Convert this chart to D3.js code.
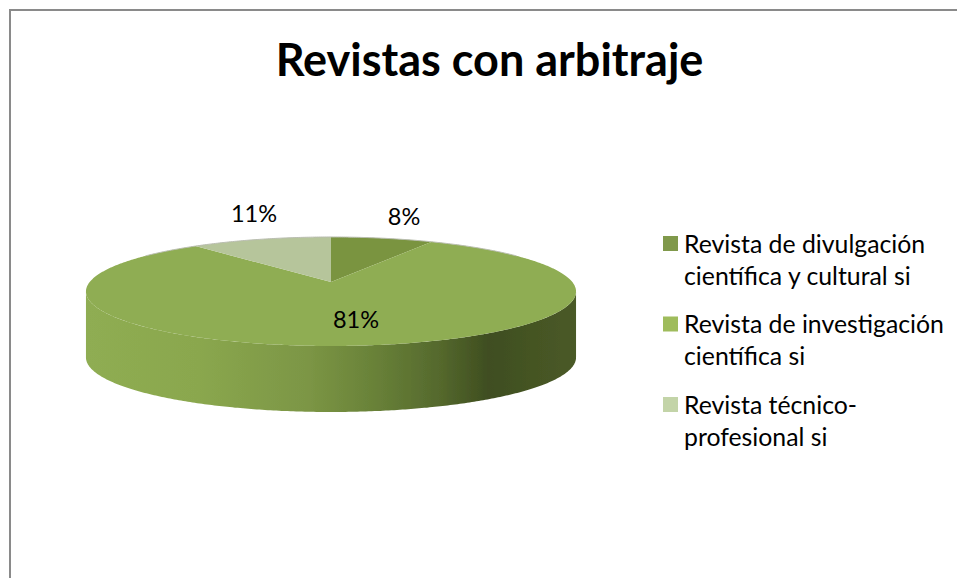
<!DOCTYPE html>
<html><head><meta charset="utf-8">
<script src="https://cdn.jsdelivr.net/npm/d3@7"></script>
<style>html,body{margin:0;padding:0;background:#fff}svg{display:block}text{font-family:Lato,"Open Sans",sans-serif;fill:#000}</style>
</head><body><svg id="c" width="957" height="578"></svg>
<script>
const title = "Revistas con arbitraje";
const categories = ["Revista de divulgación científica y cultural si","Revista de investigación científica si","Revista técnico-profesional si"];
const legendLines = [["Revista de divulgación","científica y cultural si"],["Revista de investigación","científica si"],["Revista técnico-","profesional si"]];
const values = [8,81,11];
const labels = ["8%","81%","11%"];
const topColors = ["#7a9440","#8fad52","#b6c59b"];
const legendColors = ["#80994b","#9fbc5c","#c3d4a8"];
const wallStops = [[0,"#8fad52"],[0.23,"#8aa74e"],[0.45,"#7c9645"],[0.58,"#6a8339"],[0.72,"#55692d"],[0.82,"#3f4e20"],[1,"#4a5a27"]];

const svg = d3.select("#c");
svg.append("path").attr("d","M10 578V10H957").attr("fill","none").attr("stroke","#8a8a8a").attr("stroke-width",2);

svg.append("text").attr("x",489.5).attr("y",76).attr("text-anchor","middle")
  .attr("font-size",45).attr("font-weight",700).text(title);

// projective mapping of the pie disc
const apex={x:331,y:282}, R=241.3, Ry=52.85, k=0.174, depth=66;
const proj=(a,dy=0)=>{const w=1+k*Math.cos(a);return [apex.x+R*Math.sin(a)/w, apex.y+dy-Ry*Math.cos(a)/w];};
const arcs=d3.pie().sort(null).startAngle(0).endAngle(2*Math.PI)(values);
const line=d3.line();
const rim=(a0,a1,dy=0)=>{const n=Math.max(2,Math.ceil((a1-a0)/0.01));return d3.range(n+1).map(i=>proj(a0+(a1-a0)*i/n,dy));};

const defs=svg.append("defs");
const g=defs.append("linearGradient").attr("id","wall").attr("gradientUnits","userSpaceOnUse")
  .attr("x1",apex.x-245).attr("x2",apex.x+245).attr("y1",0).attr("y2",0);
g.selectAll("stop").data(wallStops).join("stop").attr("offset",d=>d[0]).attr("stop-color",d=>d[1]);
const blur=defs.append("filter").attr("id","soft");
blur.append("feGaussianBlur").attr("stdDeviation",0.5);

const pie=svg.append("g").attr("filter","url(#soft)");
const aR=Math.acos(-k), aL=2*Math.PI-aR;
const upper=rim(aR,aL,0), lower=rim(aR,aL,depth).reverse();
pie.append("path").attr("d",line(upper.concat(lower))+"Z").attr("fill","url(#wall)");
pie.selectAll("path.top").data(arcs).join("path").attr("class","top")
  .attr("d",d=>line([[apex.x,apex.y]].concat(rim(d.startAngle,d.endAngle)))+"Z")
  .attr("fill",(d,i)=>topColors[i]);
pie.append("path").attr("d",line(rim(-1.0,1.0))).attr("fill","none").attr("stroke","#b9bdb0").attr("stroke-width",1);

const labelPos=[[404,225],[356,328],[254,222]];
svg.selectAll("text.lab").data(labels).join("text").attr("class","lab")
  .attr("x",(d,i)=>labelPos[i][0]).attr("y",(d,i)=>labelPos[i][1])
  .attr("text-anchor","middle").attr("font-size",23.5).text(d=>d);

const legendY=d3.scalePoint().domain(categories).range([236,397]);
const lg=svg.selectAll("g.lg").data(categories).join("g").attr("class","lg")
  .attr("transform",d=>`translate(663,${legendY(d)})`);
lg.append("rect").attr("width",15).attr("height",15).attr("fill",(d,i)=>legendColors[i]);
lg.each(function(d,i){
  d3.select(this).selectAll("text").data(legendLines[i]).join("text")
    .attr("x",21).attr("y",(t,j)=>16.5+j*32).attr("font-size",24.8).text(t=>t);
});
</script></body></html>
